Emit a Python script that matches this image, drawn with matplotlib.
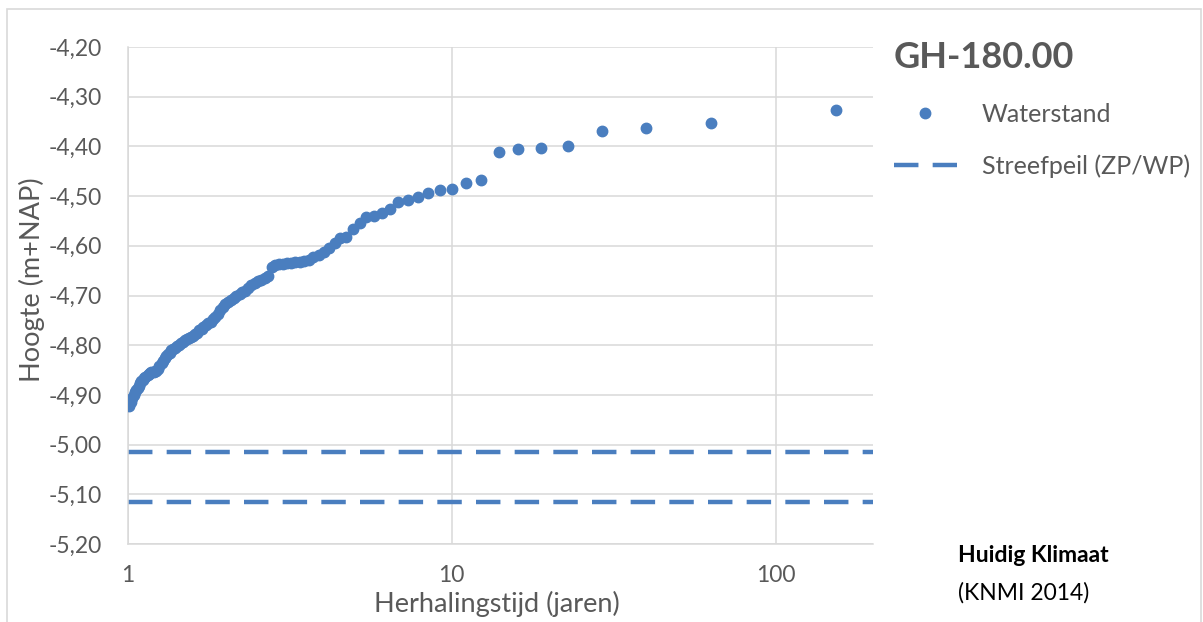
import matplotlib
matplotlib.use("Agg")
import matplotlib.pyplot as plt
from matplotlib.lines import Line2D
from matplotlib.patches import Rectangle
from matplotlib.ticker import FixedLocator, FuncFormatter, NullLocator

herhalingstijd = [
    153.4, 63.18, 39.78, 29.03, 22.85, 18.84, 16.03, 13.95, 12.34, 11.07,
    10.04, 9.18, 8.46, 7.84, 7.31, 6.84, 6.43, 6.07, 5.74, 5.45,
    5.19, 4.95, 4.73, 4.53, 4.35, 4.18, 4.02, 3.88, 3.74, 3.62,
    3.50, 3.39, 3.28, 3.19, 3.10, 3.01, 2.93, 2.85, 2.78, 2.71,
    2.64, 2.58, 2.52, 2.46, 2.40, 2.35, 2.30, 2.25, 2.21, 2.16,
    2.12, 2.08, 2.04, 2.00, 1.96, 1.93, 1.89, 1.86, 1.83, 1.80,
    1.77, 1.74, 1.71, 1.69, 1.66, 1.63, 1.61, 1.59, 1.56, 1.54,
    1.52, 1.50, 1.48, 1.46, 1.44, 1.42, 1.40, 1.38, 1.36, 1.35,
    1.33, 1.31, 1.30, 1.28, 1.27, 1.25, 1.24, 1.22, 1.21, 1.20,
    1.18, 1.17, 1.16, 1.15, 1.13, 1.12, 1.11, 1.10, 1.09, 1.08,
    1.07, 1.06, 1.05, 1.04, 1.03, 1.02, 1.01,
]

# Waterstand (m+NAP)
waterstand = [
    -4.326, -4.353, -4.362, -4.369, -4.399, -4.403, -4.405, -4.411, -4.468, -4.473,
    -4.486, -4.488, -4.493, -4.502, -4.508, -4.511, -4.526, -4.533, -4.540, -4.543,
    -4.555, -4.567, -4.582, -4.585, -4.595, -4.605, -4.612, -4.618, -4.623, -4.629,
    -4.630, -4.632, -4.633, -4.634, -4.635, -4.636, -4.637, -4.639, -4.642, -4.660,
    -4.664, -4.668, -4.670, -4.674, -4.678, -4.684, -4.690, -4.693, -4.697, -4.700,
    -4.705, -4.709, -4.713, -4.718, -4.724, -4.729, -4.737, -4.743, -4.748, -4.753,
    -4.756, -4.759, -4.764, -4.767, -4.770, -4.776, -4.778, -4.781, -4.784, -4.786,
    -4.788, -4.790, -4.793, -4.796, -4.799, -4.802, -4.805, -4.807, -4.810, -4.815,
    -4.817, -4.822, -4.826, -4.832, -4.836, -4.842, -4.848, -4.851, -4.852, -4.853,
    -4.854, -4.856, -4.858, -4.860, -4.864, -4.867, -4.870, -4.873, -4.877, -4.883,
    -4.886, -4.890, -4.895, -4.900, -4.906, -4.914, -4.923,
]

# Streefpeil zomer / winter
streefpeil = [-5.015, -5.115]

x_ticks = [1, 10, 100]
y_ticks = [-4.2, -4.3, -4.4, -4.5, -4.6, -4.7, -4.8, -4.9, -5.0, -5.1, -5.2]

BLAUW = "#4a7ebf"
GRIJS = "#595959"
RASTER = "#d9d9d9"

plt.rcParams["font.family"] = ["Lato", "DejaVu Sans"]

W, H = 1203, 622
fig = plt.figure(figsize=(W / 100, H / 100), dpi=100)

# Lichtgrijze kader rond de grafiek
fig.patches.append(Rectangle((7 / W, -0.05), (W - 9) / W, (H - 9) / H + 0.05,
                             transform=fig.transFigure, fill=False,
                             edgecolor=RASTER, linewidth=1.2))

ax = fig.add_axes([128 / W, (H - 544) / H, 745 / W, 497 / H])
ax.set_xscale("log")
ax.set_xlim(1, 200)
ax.set_ylim(-5.2, -4.2)

# Streefpeilen als gestippelde lijnen
for peil in streefpeil:
    ax.axhline(peil, color=BLAUW, linewidth=3.2, dashes=(5.5, 3.2),
               dash_capstyle="butt", zorder=2)

# Waterstanden als punten
ax.plot(herhalingstijd, waterstand, linestyle="none", marker="o",
        markersize=7.5, color=BLAUW, markeredgecolor=BLAUW, zorder=3)

# Assen en raster
ax.xaxis.set_major_locator(FixedLocator(x_ticks))
ax.xaxis.set_minor_locator(NullLocator())
ax.xaxis.set_major_formatter(FuncFormatter(lambda v, p: f"{v:g}"))
ax.yaxis.set_major_locator(FixedLocator(y_ticks))
ax.yaxis.set_major_formatter(FuncFormatter(lambda v, p: f"{v:.2f}".replace(".", ",")))
ax.grid(True, color=RASTER, linewidth=1.1)
ax.set_axisbelow(True)
for side in ["top", "right"]:
    ax.spines[side].set_visible(False)
for side in ["left", "bottom"]:
    ax.spines[side].set_color(RASTER)
    ax.spines[side].set_linewidth(1.1)
ax.tick_params(length=0, labelsize=16.5, labelcolor=GRIJS)
ax.tick_params(axis="y", pad=19)
ax.tick_params(axis="x", pad=15)

# Aslabels (zoals in Excel, y-label over de ticklabels heen)
fig.text(32 / W, 1 - 280 / H, "Hoogte (m+NAP)", rotation=90, ha="center",
         va="center", fontsize=19.5, color=GRIJS)
fig.text(497 / W, 1 - 604 / H, "Herhalingstijd (jaren)", ha="center",
         va="center", fontsize=19.5, color=GRIJS)

# Legenda
handles = [
    Line2D([], [], linestyle="none", marker="o", markersize=7.5, color=BLAUW),
    Line2D([], [], color=BLAUW, linewidth=3.2, dashes=(5.5, 3.2)),
]
leg = ax.legend(handles, ["Waterstand", "Streefpeil (ZP/WP)"], title="GH-180.00",
                loc="upper left", bbox_to_anchor=(884 / W, 1 - 31 / H),
                bbox_transform=fig.transFigure, frameon=False, fontsize=18,
                handlelength=2.5, handletextpad=1.0, labelspacing=1.15,
                alignment="left", borderaxespad=0)
leg.get_title().set_fontsize(26)
leg.get_title().set_fontweight("bold")
leg.get_title().set_color(GRIJS)
for t in leg.get_texts():
    t.set_color(GRIJS)

# Klimaatscenario
fig.text(958 / W, 1 - 556 / H, "Huidig Klimaat", ha="left", va="center",
         fontsize=16.5, fontweight="bold", color="black")
fig.text(958 / W, 1 - 593 / H, "(KNMI 2014)", ha="left", va="center",
         fontsize=16.5, color="black")

fig.savefig("out.png", dpi=100)
